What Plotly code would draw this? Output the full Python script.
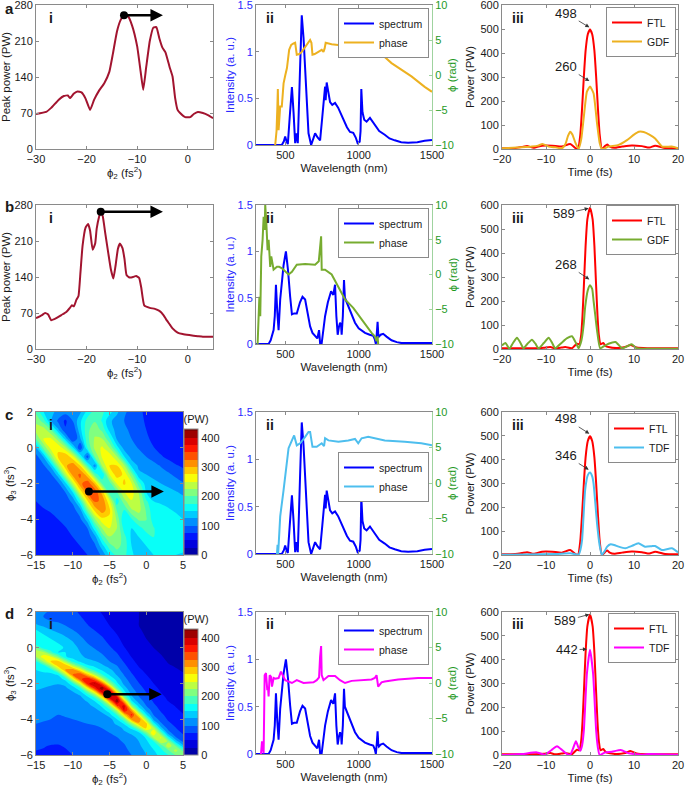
import numpy as np
import plotly.graph_objects as go

W, H = 685, 788
FONT = "Liberation Sans, Arial, sans-serif"
INK = "#1a1a1a"
FRAME = "#8a8a8a"
BLUE = "#0000ff"
TICK_BLUE = "#2a2aff"
GREEN_AX = "#1f9a1f"
PALE_GREEN = "#9fd39f"
DARK_RED = "#a2142f"
RED = "#ff0000"

# ---------------- (i) peak power vs phi2 ----------------
PHI2_A = [-30, -28, -27, -25.5, -24.5, -23.7, -23.3, -22.5, -21.8, -21, -20.2, -19.3, -18.5,
          -17.5, -16.5, -15.5, -14.8, -14, -13.3, -12.6, -11.8, -11, -10, -9.3, -8.8, -8.2,
          -7.5, -6.8, -6.2, -5.6, -5, -4.4, -3.6, -3, -2.5, -2, -1.5, -0.5, 0.5, 1.2, 2, 3, 4, 5]
PEAK_A = [68, 72, 80, 96, 103, 104, 99, 108, 112, 110, 98, 76, 96, 114, 128, 150, 185, 228,
          250, 260, 258, 240, 200, 150, 115, 160, 210, 236, 237, 215, 197, 188, 160, 141, 100,
          76, 70, 62, 62, 68, 72, 70, 66, 60]
PHI2_B = [-30, -28.8, -28.2, -27.6, -27, -26, -25, -24, -23.3, -22.9, -22.5, -22, -21.6, -21.2,
          -20.8, -20.2, -19.7, -19.3, -18.8, -18.3, -18, -17.5, -17.2, -16.8, -16.3, -15.7,
          -15.2, -14.7, -14.3, -13.8, -13.4, -12.9, -12.5, -12.1, -11.5, -10.8, -10.2, -9.6,
          -9.2, -8.6, -7.5, -6.5, -5.6, -4.8, -4.3, -3.5, -3, -2, -1, 0.3, 2, 3, 4, 5]
PEAK_B = [60, 66, 70, 67, 56, 60, 66, 72, 80, 85, 83, 96, 103, 150, 200, 236, 243, 230, 193,
          205, 234, 258, 267, 258, 225, 186, 155, 137, 160, 195, 205, 196, 175, 144, 139, 140,
          142, 138, 120, 85, 80, 78, 74, 66, 58, 47, 40, 32, 29, 27, 25, 24, 24, 24]
OPT_A, TIP_A = (-12.6, 260), -4.9
OPT_B, TIP_B = (-17.2, 267), -4.9

# ---------------- (ii) spectra and phases ----------------
WL_AC = [300, 476, 490, 499, 508, 517, 530, 545, 556, 567, 576, 585, 600, 612, 624, 635, 647,
         658, 676, 690, 703, 720, 737, 752, 766, 771, 775, 782, 795, 805, 820, 839, 860, 895,
         920, 941, 963, 980, 993, 1007, 1013, 1018, 1026, 1038, 1054, 1077, 1110, 1140, 1178,
         1210, 1246, 1290, 1337, 1400, 1450, 1500]
SPEC_AC = [0, 0, 0.04, 0.09, 0.04, 0.01, 0.3, 0.62, 0.35, 0.02, 0.125, 0.02, 0.8, 1.39, 1.15,
           0.84, 0.4, 0.125, 0, 0.08, 0.125, 0.08, 0.05, 0.3, 0.55, 0.625, 0.48, 0.67, 0.55,
           0.46, 0.43, 0.45, 0.4, 0.27, 0.19, 0.14, 0.13, 0.08, 0.02, 0.035, 0.15, 0.6, 0.35,
           0.27, 0.25, 0.29, 0.21, 0.15, 0.11, 0.07, 0.05, 0.03, 0.025, 0.03, 0.046, 0.054]
WL_BD = [300, 386, 400, 409, 420, 428, 436, 445, 454, 465, 472, 488, 504, 518, 533, 545, 560,
         578, 600, 617, 635, 650, 669, 685, 703, 718, 730, 734, 737, 748, 760, 771, 790, 812,
         827, 839, 848, 857, 865, 873, 880, 884, 892, 900, 906, 911, 929, 950, 975, 1000, 1043,
         1075, 1099, 1110, 1117, 1124, 1129, 1134, 1138, 1150, 1167, 1190, 1224, 1260, 1292,
         1400, 1500]
SPEC_BD = [0, 0, 0.04, 0.08, 0.15, 0.3, 0.64, 0.35, 0.15, 0.48, 0.59, 0.85, 1.0, 0.8, 0.51,
           0.32, 0.33, 0.33, 0.45, 0.51, 0.48, 0.35, 0.19, 0.12, 0.08, 0.06, 0.15, 0.05, 0.01,
           0.01, 0.15, 0.3, 0.45, 0.57, 0.53, 0.64, 0.3, 0.1, 0.18, 0.23, 0.2, 0.1, 0.3, 0.69,
           0.5, 0.48, 0.41, 0.32, 0.23, 0.17, 0.12, 0.1, 0.09, 0.05, 0, 0.12, 0.24, 0.1, 0.08,
           0.1, 0.11, 0.08, 0.04, 0.02, 0.01, 0.01, 0.01]
WLP_A = [431, 440, 445, 449, 454, 460, 465, 476, 488, 500, 511, 526, 540, 556, 567, 578, 595,
         612, 640, 669, 678, 685, 700, 726, 748, 760, 768, 775, 790, 816, 860, 907, 950, 975,
         990, 997, 1008, 1020, 1065, 1110, 1170, 1224, 1300, 1360, 1450, 1500]
PHASE_A = [-10, -8, -5, -2, -7.9, -6, -4.5, -4.5, -1.2, 0, 1.0, 3.6, 4.3, 4.5, 4.6, 2.9, 3.0,
           3.3, 4.2, 5, 4.6, 2.9, 3.0, 3.3, 3.6, 3.3, 3.8, 4.6, 4.5, 4.4, 4.3, 4.3, 4.2, 4.4,
           4.2, 3.6, 4.1, 4.3, 4.3, 3.6, 2.7, 1.7, 0.7, -0.2, -1.7, -2.4]
WLP_B = [311, 318, 323, 329, 336, 345, 352, 359, 363, 370, 379, 386, 392, 397, 404, 412, 420,
         443, 458, 477, 499, 522, 545, 578, 635, 703, 728, 734, 739, 744, 748, 771, 816, 861,
         907, 963, 1020, 1088, 1110, 1122, 1129, 1133]
PHASE_B = [-10, -7, -3.2, -6, 2.6, 5, 8.3, 6.4, 10, 7.6, 3.5, 5, 2.0, 1.1, 2.6, 1.5, 0.7, 1.1,
           1.1, 0.9, 0.4, 0, 0.4, 1.4, 1.5, 1.4, 1.9, 3.5, 4.5, 5.5, 0.7, 0.7, 0, -1.7, -3.6,
           -4.8, -6.5, -8.4, -8.9, -9.6, -8.9, -10]
WLP_C = [443, 447, 451, 454, 465, 488, 511, 522, 545, 560, 578, 601, 635, 658, 669, 685, 714,
         748, 764, 771, 794, 862, 929, 975, 997, 1020, 1065, 1088, 1178, 1314, 1427, 1500]
PHASE_C = [-10, -8.7, -10, -9, -4.7, -1, 3.2, 4.9, 6.0, 6.7, 5.3, 5.6, 6.5, 7.2, 7.2, 5.1, 5.1,
           5.6, 5.2, 6.3, 6.0, 5.8, 6.0, 6.2, 5.6, 6.3, 6.5, 6.4, 6.0, 5.8, 5.6, 5.3]
WLP_D = [334, 341, 352, 359, 368, 377, 382, 386, 393, 402, 409, 420, 431, 454, 470, 499, 545,
         578, 624, 692, 714, 730, 737, 744, 748, 760, 794, 839, 873, 907, 952, 1020, 1088, 1110,
         1122, 1133, 1156, 1178, 1269, 1405, 1500]
PHASE_D = [-10, -8.2, -9.9, 1.1, 1.4, -1, -0.7, -1.9, 1.1, 0.9, -0.5, 0.7, 0.6, 0.7, 1.6, 0.4,
           0, 0.4, 0, 0.1, 0.4, 0.8, 3.7, 5.2, 1.1, 0.4, 1.0, 1.0, 0.4, 0, 0.3, 0.4, 0.5, 0.7,
           1.1, -0.5, 0.1, 0.2, 0.5, 0.7, 0.7]

# ---------------- (iii) temporal power ----------------
T_FTL_AC = [-20, -17, -15.5, -14.3, -12.8, -10.9, -8.6, -6.4, -4.5, -3.3, -2.7, -2.2, -1.8,
            -1.4, -1.0, -0.5, 0, 0.5, 1.0, 1.4, 1.8, 2.2, 2.7, 3.4, 3.9, 4.5, 5.5, 7.3, 9.5,
            11.8, 13.5, 14.8, 17.1, 20]
FTL_AC = [3, 4, 8, 12, 5, 14, 14, 10, 21, 4, 2, 60, 170, 300, 410, 478, 498, 478, 410, 300,
          170, 60, 0, 12, 19, 10, 5, 10, 15, 12, 6, 14, 4, 3]
T_FTL_BD = [-20, -12.4, -10.5, -9, -7.9, -6.5, -5.6, -4.1, -3, -2.4, -2.0, -1.7, -1.4, -1.0,
            -0.6, 0, 0.6, 1.0, 1.4, 1.7, 2.0, 2.4, 3.0, 3.6, 4.2, 6, 8, 9.2, 10.6, 13, 20]
FTL_BD = [3, 3, 5, 8, 3, 6, 8, 3, 22, 20, 60, 140, 260, 430, 540, 589, 540, 430, 260, 140, 60,
          20, 25, 12, 8, 4, 8, 17, 6, 3, 3]
T_GDF_A = [-20, -15.5, -13.2, -11.8, -10.8, -9.4, -7.9, -6.4, -5.6, -5.0, -4.5, -4.0, -3.4,
           -2.6, -2.0, -1.4, -0.7, 0, 0.8, 1.6, 2.2, 2.7, 3.5, 4.2, 6.5, 8.4, 10, 11.1, 12.2,
           13.5, 14.8, 16.4, 18.6, 20]
GDF_A = [3, 7, 10, 14, 21, 10, 7, 3, 20, 55, 72, 60, 30, 1, 40, 135, 239, 260, 232, 107, 25, 0,
         4, 10, 17, 37, 60, 72, 71, 60, 44, 10, 10, 3]
T_GDF_B = [-20, -19.2, -18.3, -17.5, -16.6, -15.8, -15.1, -14.2, -13.2, -12.4, -11.7, -10.5,
           -9.4, -8.6, -7.9, -6.5, -5.2, -4.1, -3.2, -2.6, -2.1, -1.8, -1.4, -1.1, -0.5, 0,
           0.5, 0.8, 1.2, 1.6, 2.3, 3.2, 4.2, 5.8, 7.3, 8.5, 9.5, 10.6, 12, 20]
GDF_B = [15, 25, 1, 25, 47, 25, 3, 22, 39, 22, 3, 25, 47, 25, 3, 25, 45, 53, 25, 3, 25, 50, 110,
         175, 245, 266, 250, 203, 140, 78, 3, 12, 22, 29, 3, 12, 20, 3, 1, 1]
T_TDF_C = [-20, -7.9, -4.5, -3.3, -2.6, -2.2, -1.8, -1.1, -0.5, 0, 0.5, 0.8, 1.2, 1.6, 2.2,
           2.7, 3.3, 3.9, 4.7, 5.5, 6.5, 8, 9.5, 11, 12.5, 14, 14.8, 16.3, 18.6, 20]
TDF_C = [1, 4, 7, 3, 1, 20, 63, 273, 335, 346, 330, 301, 220, 133, 40, 1, 15, 35, 45, 42, 35,
         28, 38, 49, 35, 37, 38, 21, 28, 11]
T_TDF_D = [-20, -15.5, -12.1, -10.2, -8.8, -7.5, -6.3, -5.2, -4.5, -3.8, -3.2, -2.6, -2.2,
           -1.8, -1.4, -0.7, 0, 0.7, 1.4, 1.8, 2.2, 3.5, 5, 7, 8.8, 10.5, 11.8, 13.3, 20]
TDF_D = [0, 4, 11, 1, 20, 37, 20, 4, 1, 30, 58, 30, 18, 40, 103, 342, 442, 342, 103, 30, 0, 11,
         14, 21, 7, 3, 1, 4, 1]

# peak labels: (text, arrow tip t, tip P, label t, label P)
LABELS_A = [("498", -0.15, 507, -5.4, 565), ("260", -0.15, 283, -5.4, 343)]
LABELS_B = [("589", -0.3, 586, -6.0, 563), ("268", -0.15, 290, -5.4, 354)]
LABELS_C = [("498", -0.15, 509, -5.4, 571), ("346", -0.3, 358, -5.4, 417)]
LABELS_D = [("589", -0.15, 590, -5.6, 563), ("442", -0.7, 444, -5.2, 441)]

# ---------------- (i) peak power maps, PW ----------------
PHI2_C = list(range(-15, 6))                       # fs^2
PHI3_C = [2, 1.5, 1, 0.5, 0, -0.5, -1, -1.5, -2, -2.5, -3, -3.5, -4, -4.5, -5, -5.5, -6]
Z_C = [  # rows from phi3 = 2 (top) to -6 (bottom), columns phi2 = -15 .. 5
    [195, 151, 130, 120, 110, 105, 120, 160, 185, 180, 160, 130, 105, 90, 80, 70, 60, 55, 55, 55, 55],
    [220, 189, 130, 95, 70, 100, 144, 186, 198, 172, 130, 115, 100, 90, 82, 72, 62, 56, 55, 55, 55],
    [235, 240, 201, 130, 78, 75, 142, 194, 215, 194, 142, 115, 105, 95, 85, 75, 65, 58, 55, 55, 55],
    [200, 250, 255, 213, 138, 72, 120, 193, 228, 226, 180, 122, 110, 100, 90, 80, 68, 60, 56, 55, 55],
    [124, 204, 259, 272, 231, 154, 75, 176, 232, 255, 224, 161, 115, 108, 98, 88, 76, 65, 58, 56, 55],
    [90, 125, 209, 278, 300, 258, 174, 85, 200, 254, 267, 227, 151, 115, 110, 100, 90, 78, 68, 60, 57],
    [88, 95, 131, 220, 295, 318, 275, 183, 110, 228, 276, 276, 228, 143, 120, 115, 108, 98, 88, 78, 70],
    [85, 88, 95, 137, 235, 310, 330, 285, 191, 150, 249, 288, 270, 209, 130, 125, 120, 112, 104, 95, 88],
    [82, 85, 88, 95, 141, 240, 318, 342, 295, 197, 185, 252, 280, 252, 185, 135, 130, 125, 118, 110, 102],
    [80, 82, 84, 88, 100, 149, 255, 325, 345, 292, 186, 196, 249, 262, 223, 150, 145, 140, 135, 128, 120],
    [75, 78, 80, 84, 90, 105, 170, 270, 328, 322, 255, 160, 215, 248, 233, 180, 150, 148, 145, 140, 135],
    [72, 74, 76, 80, 84, 90, 114, 205, 282, 315, 282, 198, 174, 221, 233, 197, 155, 155, 152, 148, 142],
    [68, 70, 72, 75, 80, 85, 95, 138, 220, 267, 267, 220, 150, 172, 206, 202, 162, 158, 158, 155, 150],
    [62, 64, 66, 70, 74, 80, 85, 100, 165, 225, 250, 225, 165, 150, 163, 188, 177, 160, 160, 158, 155],
    [58, 60, 62, 66, 70, 75, 80, 88, 115, 184, 223, 223, 184, 145, 150, 160, 175, 165, 162, 160, 158],
    [55, 56, 58, 62, 66, 70, 75, 80, 95, 139, 189, 210, 189, 150, 148, 150, 158, 160, 160, 158, 155],
    [52, 53, 55, 58, 62, 66, 70, 75, 85, 105, 152, 184, 184, 152, 145, 148, 150, 152, 152, 150, 148],
]
OPT_C, TIP_C = (-7.8, -2.45), 2.4

PHI2_D = list(range(-15, 6))
PHI3_D = [-6 + 0.25 * i for i in range(33)]
Z_D_COLS = [  # one column per phi2 value (-15 .. 5), phi3 from -6 up to 2
    [75, 75, 78, 80, 85, 90, 95, 100, 105, 105, 108, 112, 115, 118, 122, 128, 135, 140, 145, 150, 160, 175, 225, 248, 203, 160, 165, 160, 150, 130, 115, 110, 115],
    [72, 74, 76, 80, 84, 88, 93, 98, 102, 104, 106, 110, 113, 116, 120, 125, 130, 138, 145, 155, 165, 228, 265, 228, 165, 165, 160, 150, 140, 120, 105, 100, 105],
    [70, 72, 74, 78, 82, 86, 90, 95, 100, 102, 105, 108, 111, 114, 118, 122, 128, 135, 145, 160, 224, 278, 252, 182, 160, 160, 150, 140, 125, 110, 100, 95, 95],
    [70, 72, 74, 77, 80, 84, 88, 92, 97, 100, 103, 106, 109, 112, 116, 120, 126, 135, 153, 221, 286, 280, 206, 150, 155, 150, 140, 130, 115, 105, 98, 92, 90],
    [72, 74, 76, 78, 82, 86, 90, 94, 98, 102, 105, 108, 112, 115, 118, 122, 130, 161, 232, 301, 295, 217, 152, 150, 148, 140, 130, 120, 108, 100, 92, 88, 85],
    [75, 77, 80, 82, 85, 88, 92, 96, 100, 103, 106, 110, 113, 117, 122, 135, 174, 251, 325, 318, 235, 164, 140, 140, 135, 128, 120, 110, 100, 92, 86, 82, 80],
    [78, 80, 82, 85, 88, 91, 95, 98, 102, 105, 108, 112, 116, 120, 137, 176, 252, 342, 349, 270, 187, 144, 130, 125, 120, 112, 105, 98, 92, 86, 80, 76, 72],
    [80, 82, 85, 88, 90, 93, 96, 100, 103, 107, 110, 114, 127, 146, 189, 270, 366, 373, 289, 200, 154, 131, 120, 115, 108, 100, 94, 88, 82, 76, 72, 68, 65],
    [82, 84, 86, 89, 92, 95, 98, 101, 105, 108, 112, 134, 150, 182, 263, 365, 403, 324, 227, 170, 142, 126, 112, 106, 98, 92, 86, 80, 74, 68, 64, 60, 56],
    [84, 86, 88, 91, 94, 97, 100, 104, 108, 112, 139, 155, 189, 273, 378, 418, 336, 235, 176, 147, 130, 115, 105, 97, 90, 84, 78, 72, 66, 61, 56, 52, 48],
    [86, 88, 90, 93, 96, 100, 104, 108, 112, 142, 163, 211, 301, 408, 417, 323, 224, 172, 146, 133, 112, 100, 92, 85, 78, 72, 66, 60, 55, 50, 46, 43, 40],
    [88, 90, 93, 96, 100, 104, 108, 132, 149, 178, 238, 340, 423, 382, 276, 191, 157, 140, 122, 110, 100, 90, 82, 74, 67, 60, 55, 50, 45, 42, 40, 38, 36],
    [92, 95, 98, 102, 106, 120, 132, 152, 196, 280, 380, 388, 300, 208, 160, 136, 118, 108, 98, 88, 80, 72, 64, 57, 51, 46, 42, 39, 36, 34, 32, 31, 30],
    [100, 104, 108, 112, 118, 130, 155, 216, 310, 360, 310, 216, 155, 130, 115, 104, 95, 86, 78, 70, 62, 55, 49, 44, 40, 37, 35, 33, 31, 30, 29, 28, 28],
    [110, 115, 120, 125, 132, 146, 211, 293, 323, 260, 182, 137, 114, 101, 92, 84, 76, 68, 61, 54, 48, 43, 39, 35, 32, 30, 28, 27, 26, 25, 25, 25, 25],
    [125, 130, 138, 145, 155, 207, 280, 286, 221, 153, 118, 100, 90, 82, 75, 68, 62, 56, 50, 45, 40, 36, 33, 30, 28, 26, 25, 24, 23, 22, 22, 22, 22],
    [140, 148, 158, 170, 237, 275, 237, 165, 118, 99, 88, 80, 73, 66, 60, 55, 50, 45, 41, 37, 34, 31, 29, 27, 25, 24, 23, 22, 21, 20, 20, 20, 20],
    [160, 168, 182, 247, 252, 195, 135, 104, 88, 80, 72, 66, 60, 55, 50, 46, 42, 38, 35, 32, 30, 28, 26, 24, 23, 22, 21, 20, 19, 18, 18, 18, 18],
    [175, 196, 243, 220, 159, 110, 91, 80, 72, 66, 60, 55, 50, 46, 42, 39, 36, 33, 30, 28, 26, 24, 22, 21, 20, 19, 18, 17, 16, 15, 15, 15, 15],
    [202, 235, 202, 141, 101, 85, 76, 69, 63, 58, 53, 49, 45, 42, 39, 36, 33, 30, 28, 26, 24, 22, 20, 19, 18, 17, 16, 15, 14, 13, 13, 13, 13],
    [225, 194, 135, 97, 81, 72, 65, 60, 55, 51, 47, 44, 41, 38, 35, 32, 30, 28, 26, 24, 22, 20, 19, 18, 17, 16, 15, 14, 13, 12, 12, 12, 12],
]
OPT_D, TIP_D = (-5.3, -2.6), 2.1

JET = [[0, "rgb(0,0,143)"], [0.125, "rgb(0,0,255)"], [0.375, "rgb(0,255,255)"],
       [0.625, "rgb(255,255,0)"], [0.875, "rgb(255,0,0)"], [1, "rgb(128,0,0)"]]
ZMAX = 430

PHI2_T = "ϕ<sub>2</sub> (fs<sup>2</sup>)"
PHI3_T = "ϕ<sub>3</sub> (fs<sup>3</sup>)"

fig = go.Figure()
layout = {}
annotations = []


def xd(l, r):
    return [l / W, r / W]


def yd(t, b):
    return [1 - b / H, 1 - t / H]


def ref(p, k):
    return p if k == 1 else f"{p}{k}"


def key(p, k):
    return f"{p}axis" if k == 1 else f"{p}axis{k}"


def axis(title, color=INK, standoff=3, **kw):
    a = dict(showline=True, linecolor=FRAME, linewidth=1, mirror="ticks",
             ticks="inside", ticklen=3, tickcolor=FRAME, showgrid=False,
             zeroline=False, automargin=False, ticklabeloverflow="allow",
             tickfont=dict(size=11, color=color),
             title=dict(text=title, font=dict(size=11.5, color=color), standoff=standoff))
    a.update(kw)
    return a


def legend_box(right_px, top_px):
    return dict(x=right_px / W, y=1 - top_px / H, xanchor="right", yanchor="top",
                bgcolor="white", bordercolor=FRAME, borderwidth=1,
                font=dict(size=10.5, color=INK), tracegroupgap=0, itemwidth=30)


def opt_arrow(xr, yr, opt, tip):
    fig.add_trace(go.Scatter(x=[opt[0]], y=[opt[1]], mode="markers",
                             marker=dict(color="black", size=8), xaxis=xr, yaxis=yr,
                             showlegend=False, hoverinfo="skip"))
    annotations.append(dict(x=tip, y=opt[1], ax=opt[0], ay=opt[1], xref=xr, yref=yr,
                            axref=xr, ayref=yr, text="", showarrow=True, arrowhead=2,
                            arrowsize=1, arrowwidth=2.5, arrowcolor="black", standoff=0))


def scan_panel(xk, yk, box, phi2, peak, opt, tip):
    l, r, t, b = box
    xr, yr = ref("x", xk), ref("y", yk)
    fig.add_trace(go.Scatter(x=phi2, y=peak, mode="lines",
                             line=dict(color=DARK_RED, width=2, shape="spline", smoothing=0.4),
                             xaxis=xr, yaxis=yr, showlegend=False, hoverinfo="skip"))
    opt_arrow(xr, yr, opt, tip)
    layout[key("x", xk)] = axis(PHI2_T, domain=xd(l, r), anchor=yr, range=[-30, 5],
                                tickvals=[-30, -20, -10, 0])
    layout[key("y", yk)] = axis("Peak power (PW)", domain=yd(t, b), anchor=xr, range=[0, 280],
                                tickvals=[0, 70, 140, 210, 280])


def map_panel(xk, yk, box, phi2, phi3, z, opt, tip):
    l, r, t, b = box
    xr, yr = ref("x", xk), ref("y", yk)
    fig.add_trace(go.Contour(
        x=phi2, y=phi3, z=z, colorscale=JET, zmin=0, zmax=ZMAX, autocontour=False,
        contours=dict(start=0, end=ZMAX, size=25, coloring="fill", showlines=False),
        line=dict(width=0, smoothing=1), xaxis=xr, yaxis=yr, hoverinfo="skip",
        colorbar=dict(x=(r + 1) / W, xanchor="left", y=1 - b / H, yanchor="bottom",
                      len=(b - t) / H, lenmode="fraction", thickness=14, xpad=0, ypad=0,
                      outlinecolor=FRAME, outlinewidth=1, tickvals=[0, 100, 200, 300, 400],
                      ticks="", tickfont=dict(size=11, color=INK),
                      title=dict(text="(PW)", side="top", font=dict(size=11, color=INK)))))
    opt_arrow(xr, yr, opt, tip)
    layout[key("x", xk)] = axis(PHI2_T, domain=xd(l, r), anchor=yr, range=[-15, 5],
                                tickvals=[-15, -10, -5, 0, 5])
    layout[key("y", yk)] = axis(PHI3_T, domain=yd(t, b), anchor=xr, range=[-6, 2],
                                tickvals=[-6, -4, -2, 0, 2])


def spectrum_panel(xk, yk, box, wl, spec, wlp, phase, pcolor, leg, leg_pos):
    l, r, t, b = box
    xr, y1, y2 = ref("x", xk), ref("y", yk), ref("y", yk + 1)
    fig.add_trace(go.Scatter(x=wl, y=spec, mode="lines", name="spectrum",
                             line=dict(color=BLUE, width=2), xaxis=xr, yaxis=y1,
                             legend=leg, hoverinfo="skip"))
    fig.add_trace(go.Scatter(x=wlp, y=phase, mode="lines", name="phase",
                             line=dict(color=pcolor, width=2), xaxis=xr, yaxis=y2,
                             legend=leg, hoverinfo="skip"))
    layout[key("x", xk)] = axis("Wavelength (nm)", domain=xd(l, r), anchor=y1,
                                range=[300, 1500], tickvals=[500, 1000, 1500])
    layout[key("y", yk)] = axis("Intensity (a. u.)", color=TICK_BLUE, standoff=0,
                                domain=yd(t, b), anchor=xr, range=[0, 1.5],
                                tickvals=[0, 0.5, 1, 1.5], mirror=False)
    layout[key("y", yk + 1)] = axis("", color=GREEN_AX, overlaying=y1, side="right",
                                    anchor=xr, range=[-10, 10],
                                    tickvals=[-10, -5, 0, 5, 10], mirror=False,
                                    linecolor=PALE_GREEN, tickcolor=PALE_GREEN)
    # right-hand axis title, tucked close to its tick labels
    annotations.append(dict(x=452 / W, y=1 - (t + b) / 2 / H, xref="paper", yref="paper",
                            xanchor="center", yanchor="middle", showarrow=False,
                            textangle=-90, text="ϕ (rad)",
                            font=dict(size=11.5, color=GREEN_AX)))
    layout[leg] = legend_box(*leg_pos)


def pulse_panel(xk, yk, box, t_ftl, ftl, t2, p2, name2, color2, labels, leg, leg_pos):
    l, r, t, b = box
    xr, yr = ref("x", xk), ref("y", yk)
    fig.add_trace(go.Scatter(x=t_ftl, y=ftl, mode="lines", name="FTL",
                             line=dict(color=RED, width=2, shape="spline", smoothing=0.5),
                             xaxis=xr, yaxis=yr, legend=leg, hoverinfo="skip"))
    fig.add_trace(go.Scatter(x=t2, y=p2, mode="lines", name=name2,
                             line=dict(color=color2, width=2, shape="spline", smoothing=0.5),
                             xaxis=xr, yaxis=yr, legend=leg, hoverinfo="skip"))
    for text, tx, ty, lx, ly in labels:
        annotations.append(dict(x=tx, y=ty, ax=lx, ay=ly, xref=xr, yref=yr, axref=xr,
                                ayref=yr, text=text, showarrow=True, arrowhead=2,
                                arrowsize=1, arrowwidth=0.8, arrowcolor="#333", standoff=0,
                                font=dict(size=13, color=INK)))
    layout[key("x", xk)] = axis("Time (fs)", domain=xd(l, r), anchor=yr, range=[-20, 20],
                                tickvals=[-20, -10, 0, 10, 20])
    layout[key("y", yk)] = axis("Power (PW)", domain=yd(t, b), anchor=xr, range=[0, 600],
                                tickvals=[0, 100, 200, 300, 400, 500, 600])
    layout[leg] = legend_box(*leg_pos)


# row a
scan_panel(1, 1, (36, 213, 5, 149), PHI2_A, PEAK_A, OPT_A, TIP_A)
spectrum_panel(2, 2, (256, 432, 5, 145), WL_AC, SPEC_AC, WLP_A, PHASE_A, "#edb120",
               "legend", (429, 8))
pulse_panel(3, 4, (502, 678, 5, 149), T_FTL_AC, FTL_AC, T_GDF_A, GDF_A, "GDF", "#edb120",
            LABELS_A, "legend2", (676, 7))
# row b
scan_panel(4, 5, (36, 213, 205, 349), PHI2_B, PEAK_B, OPT_B, TIP_B)
spectrum_panel(5, 6, (256, 432, 205, 344), WL_BD, SPEC_BD, WLP_B, PHASE_B, "#77ac30",
               "legend3", (429, 208))
pulse_panel(6, 8, (502, 678, 205, 349), T_FTL_BD, FTL_BD, T_GDF_B, GDF_B, "GDF", "#77ac30",
            LABELS_B, "legend4", (676, 205))
# row c
map_panel(7, 9, (36, 183, 412, 555), PHI2_C, PHI3_C[::-1], Z_C[::-1], OPT_C, TIP_C)
spectrum_panel(8, 10, (256, 432, 412, 554), WL_AC, SPEC_AC, WLP_C, PHASE_C, "#4dbeee",
               "legend5", (429, 452))
pulse_panel(9, 12, (502, 678, 412, 555), T_FTL_AC, FTL_AC, T_TDF_C, TDF_C, "TDF", "#4dbeee",
            LABELS_C, "legend6", (676, 413))
# row d
map_panel(10, 13, (36, 183, 612, 755), PHI2_D, PHI3_D, np.array(Z_D_COLS).T.tolist(),
          OPT_D, TIP_D)
spectrum_panel(11, 14, (256, 432, 612, 754), WL_BD, SPEC_BD, WLP_D, PHASE_D, "#ff00ff",
               "legend7", (429, 615))
pulse_panel(12, 16, (502, 678, 612, 755), T_FTL_BD, FTL_BD, T_TDF_D, TDF_D, "TDF", "#ff00ff",
            LABELS_D, "legend8", (676, 613))

# panel letters and sub-panel numerals
for letter, top in [("a", 8), ("b", 206), ("c", 414), ("d", 613)]:
    annotations.append(dict(x=3 / W, y=1 - top / H, xref="paper", yref="paper",
                            xanchor="left", yanchor="middle", showarrow=False,
                            text=f"<b>{letter}</b>", font=dict(size=15, color=INK)))
for top in [18, 218, 425, 624]:
    for left, num in [(51, "i"), (270, "ii"), (518, "iii")]:
        annotations.append(dict(x=left / W, y=1 - top / H, xref="paper", yref="paper",
                                xanchor="center", yanchor="middle", showarrow=False,
                                text=f"<b>{num}</b>", font=dict(size=14, color=INK)))

fig.update_layout(
    template="none",
    width=W, height=H, margin=dict(l=0, r=0, t=0, b=0, autoexpand=False),
    paper_bgcolor="white", plot_bgcolor="white",
    font=dict(family=FONT, size=11, color=INK),
    hovermode=False, annotations=annotations, **layout,
)

fig.write_html("out.html", config={"displayModeBar": False},
               post_script="document.body.style.margin = '0px';")
